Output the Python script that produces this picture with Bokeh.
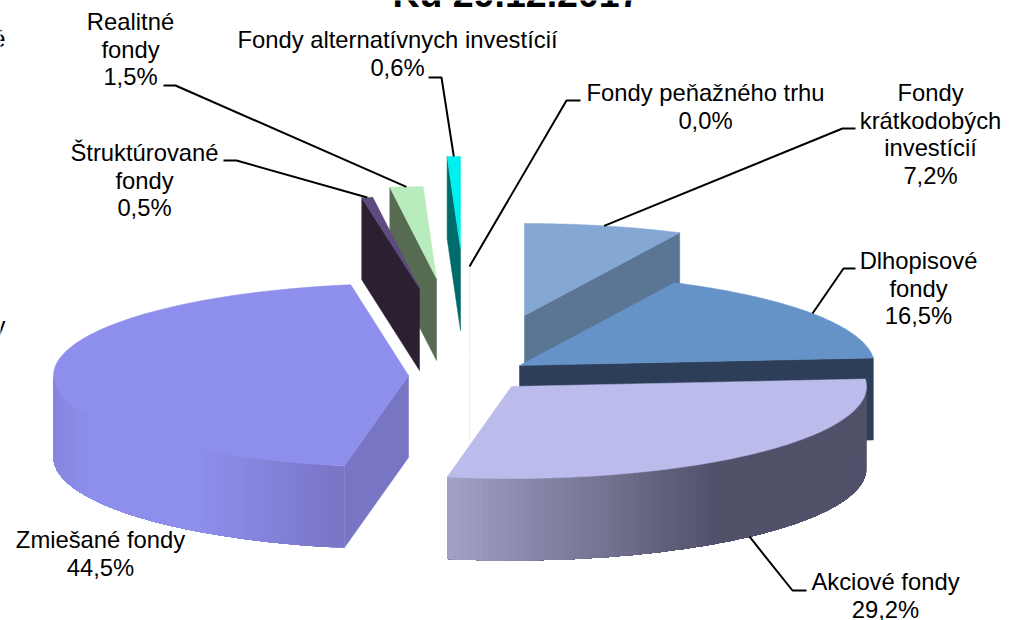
import numpy as np
from bokeh.plotting import figure
from bokeh.models import ColumnDataSource
from bokeh.core.properties import value
from bokeh.embed import file_html
from bokeh.resources import INLINE

# --- data ---
names = ["Fondy peňažného trhu", "Fondy krátkodobých investícií", "Dlhopisové fondy", "Akciové fondy",
         "Zmiešané fondy", "Štruktúrované fondy", "Realitné fondy", "Fondy alternatívnych investícií"]
shares = [0.0, 7.2, 16.5, 29.2, 44.5, 0.5, 1.5, 0.6]
label_lines = [["Fondy peňažného trhu"], ["Fondy", "krátkodobých", "investícií"], ["Dlhopisové", "fondy"],
               ["Akciové fondy"], ["Zmiešané fondy"], ["Štruktúrované", "fondy"], ["Realitné", "fondy"],
               ["Fondy alternatívnych investícií"]]
title = "Ku 29.12.2017"

# --- style / layout ---
top_colors = ["#ececec", "#85a7d4", "#6593c8", "#bcbcec", "#8e8eec", "#5e4a7e", "#b9ecbc", "#00f0f0"]
face_colors = ["#ececec", "#5b7595", "#2c3e58", "#52516a", "#7875c5", "#2a2032", "#566b52", "#006b6b"]
rim_stops = {3: ([445, 715, 866], ["#a3a2c8", "#52516a", "#52516a"]),
             4: ([53, 90, 200, 344], ["#8686e0", "#8e8eec", "#8e8eec", "#7875c5"])}
CX, CY, RX, RY, DEPTH = 469, 358, 355, 92, 82
explode_dx = [0, 55, 50, 42, -61, -50, -33, -9]
explode_dy = [0, -43, 7, 28, 17, -70, -80, -110]
draw_order = [0, 7, 6, 5, 1, 2, 3, 4]
label_cx = [705, 930, 918, 885, 100, 144, 130, 397]
label_y0 = [92, 92, 260, 581, 539, 152, 21, 39]
LINE_H = 27.6
# leader: elbow end next to the label, elbow point
leader_from = [(580, 100), (855, 128), (855, 268), (806, 590), None, (223, 160), (163, 85), (428, 77)]
leader_elbow = [(566, 100), (842, 128), (843, 268), (792, 590), None, (236, 160), (175, 85), (441, 77)]
FONT = "Liberation Sans"
FS = "23.8px"

p = figure(width=1014, height=620, x_range=(0, 1014), y_range=(620, 0), output_backend="svg",
           toolbar_location=None, min_border=0, outline_line_color=None, background_fill_color="white",
           border_fill_color="white")
p.axis.visible = False
p.grid.visible = False
p.styles = {"position": "absolute", "left": "0px", "top": "0px"}


def hexrgb(h):
    return np.array([int(h[i:i + 2], 16) for i in (1, 3, 5)], float)


def rim_color(x, stops):
    xs, cs = stops
    rgb = [np.interp(x, xs, [hexrgb(c)[k] for c in cs]) for k in range(3)]
    return "#%02x%02x%02x" % tuple(int(round(v)) for v in rgb)


edges = np.cumsum([0.0] + shares) / sum(shares) * 360.0
ax = [CX + d for d in explode_dx]
ay = [CY + d for d in explode_dy]


def pt(i, deg):
    t = np.radians(deg)
    return ax[i] + RX * np.sin(t), ay[i] - RY * np.cos(t)


def face(i, deg):
    x, y = pt(i, deg)
    return [ax[i], x, x, ax[i]], [ay[i], y, y + DEPTH, ay[i] + DEPTH]


for i in draw_order:
    a, b = edges[i], edges[i + 1]
    if shares[i] == 0:
        x, y = pt(i, a)
        p.line([x, ax[i], ax[i]], [y, ay[i], ay[i] + DEPTH], line_color=top_colors[i], line_width=1)
        continue
    # cut faces
    if 180 < a < 360:
        fx, fy = face(i, a)
        p.patch(fx, fy, fill_color=face_colors[i], line_color=face_colors[i], line_width=0.5)
    if 0 < b < 180:
        fx, fy = face(i, b)
        p.patch(fx, fy, fill_color=face_colors[i], line_color=face_colors[i], line_width=0.5)
    # outer rim: overlapping strips, each shade running under the next, so no seams show
    lo, hi = max(a, 90), min(b, 270)
    if lo < hi and i in rim_stops:
        th = np.linspace(lo, hi, 90)
        xs, ys, cols = [], [], []
        for k, t0 in enumerate(th[:-1]):
            arc = th[k:]
            x0, y0 = pt(i, arc)
            xs.append([*x0, *x0[::-1]])
            ys.append([*y0, *(y0[::-1] + DEPTH)])
            cols.append(rim_color(pt(i, (t0 + th[k + 1]) / 2)[0], rim_stops[i]))
        src = ColumnDataSource(dict(xs=xs, ys=ys, c=cols))
        p.patches("xs", "ys", source=src, fill_color="c", line_color=None)
    # top surface
    th = np.linspace(a, b, 80)
    px, py = pt(i, th)
    p.patch([ax[i], *px], [ay[i], *py], fill_color=top_colors[i], line_color=top_colors[i], line_width=0.5)

# leaders and labels
for i in range(len(shares)):
    mid = (edges[i] + edges[i + 1]) / 2
    if leader_from[i] is not None:
        ex, ey = pt(i, mid)
        if 90 < mid < 270:
            ey += DEPTH
        p.line([leader_from[i][0], leader_elbow[i][0], ex], [leader_from[i][1], leader_elbow[i][1], ey],
               line_color="black", line_width=2)
    lines = label_lines[i] + [f"{shares[i]:.1f}%".replace(".", ",")]
    ys = [label_y0[i] + k * LINE_H for k in range(len(lines))]
    p.text([label_cx[i]] * len(lines), ys, text=lines, text_align="center", text_baseline="middle",
           text_font=value(FONT), text_font_size=value(FS), text_color="black")

p.text([516], [-6.5], text=[title], text_align="center", text_baseline="alphabetic",
       text_font=value("Liberation Sans"), text_font_style="bold", text_font_size=value("37.5px"), text_color="black")
# fragments of neighbouring text cut by the picture's left edge
p.text([5, 5], [38, 325], text=["é", "y"], text_align="right", text_baseline="middle",
       text_font=value(FONT), text_font_size=value(FS), text_color="black")

open("out.html", "w").write(file_html(p, INLINE))
